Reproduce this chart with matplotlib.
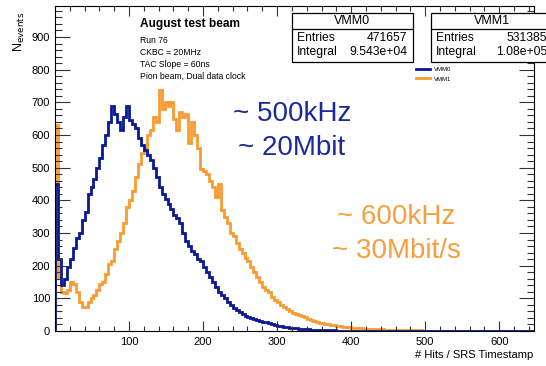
import numpy as np
import matplotlib
matplotlib.use('Agg')
import matplotlib.pyplot as plt
from matplotlib.patches import Rectangle
from matplotlib.lines import Line2D
from matplotlib import ticker

plt.rcParams['font.family'] = ['Liberation Sans', 'DejaVu Sans']

# histogram contents, bin width 4 (# hits / SRS timestamp), 0 -> 648
bin_w = 4
vmm0 = [450, 220, 140, 160, 195, 220, 255, 285, 300, 340,
        365, 420, 440, 465, 500, 530, 570, 600, 640, 690,
        665, 640, 615, 655, 690, 645, 635, 620, 590, 570,
        555, 540, 525, 500, 470, 440, 420, 405, 390, 375,
        355, 345, 330, 300, 275, 260, 245, 235, 220, 215,
        195, 180, 165, 150, 135, 120, 110, 100, 90, 80,
        70, 64, 58, 52, 47, 44, 40, 36, 33, 30,
        28, 27, 24, 21, 19, 16, 14, 13, 11, 10,
        9, 8, 7, 6, 5, 5, 4, 4, 3, 3,
        2, 2, 2, 1, 2, 1, 1, 1, 0, 1,
        0, 1, 0, 0, 0, 0, 0, 0, 0, 0,
        0, 0, 0, 0, 0, 0, 0, 0, 0, 0,
        0, 0, 0, 0, 0, 0, 0, 0, 0, 0,
        0, 0, 0, 0, 0, 0, 0, 0, 0, 0,
        0, 0, 0, 0, 0, 0, 0, 0, 0, 0,
        0, 0, 0, 0, 0, 0, 0, 0, 0, 0,
        0, 0]
vmm1 = [630, 165, 120, 115, 125, 150, 145, 120, 90, 72,
        75, 90, 100, 110, 125, 145, 150, 175, 205, 215,
        250, 275, 300, 330, 380, 400, 430, 470, 510, 545,
        560, 600, 615, 655, 640, 738, 680, 700, 690, 700,
        650, 615, 670, 655, 665, 575, 640, 600, 560, 495,
        490, 480, 460, 440, 410, 450, 370, 350, 330, 300,
        290, 270, 250, 240, 225, 215, 195, 180, 165, 150,
        135, 125, 118, 105, 95, 88, 80, 72, 66, 62,
        56, 52, 48, 45, 42, 38, 34, 30, 28, 26,
        24, 21, 20, 18, 17, 15, 14, 13, 12, 11,
        10, 9, 9, 8, 7, 7, 6, 6, 5, 5,
        5, 4, 4, 3, 4, 3, 3, 2, 3, 2,
        2, 2, 1, 2, 1, 1, 1, 0, 1, 1,
        0, 1, 0, 1, 0, 0, 1, 0, 0, 1,
        0, 0, 0, 1, 0, 0, 0, 0, 1, 0,
        0, 0, 0, 0, 0, 0, 0, 0, 0, 0,
        0, 0]
labels = ['VMM0', 'VMM1']
entries = ['471657', '531385']
integrals = ['9.543e+04', '1.08e+05']
info = ['Run 76', 'CKBC = 20MHz', 'TAC Slope = 60ns', 'Pion beam, Dual data clock']

blue = '#0a1a94'
orange = '#fb9a30'

W, H = 546, 366
def fx(x): return x / W
def fy(y): return 1 - y / H

fig = plt.figure(figsize=(W/100, H/100), dpi=100)
ax = fig.add_axes([fx(55), fy(331), (534-55)/W, (331-6)/H])

edges = np.arange(len(vmm1) + 1) * bin_w
ax.stairs(vmm1, edges, color=orange, lw=2.0, label=labels[1])
ax.stairs(vmm0, edges, color=blue, lw=2.0, label=labels[0])

ax.set_xlim(0, 647)
ax.set_ylim(0, 995)
ax.set_xticks(np.arange(100, 700, 100))
ax.set_yticks(np.arange(0, 1000, 100))
ax.xaxis.set_minor_locator(ticker.MultipleLocator(20))
ax.yaxis.set_minor_locator(ticker.MultipleLocator(20))
ax.tick_params(axis='both', which='both', direction='in', top=True, right=True,
               labelsize=8, width=0.8, colors='#333333', labelcolor='black')
ax.tick_params(axis='x', which='major', length=7.2, pad=4)
ax.tick_params(axis='x', which='minor', length=3.6)
ax.tick_params(axis='y', which='major', length=10.5, pad=3.5)
ax.tick_params(axis='y', which='minor', length=5.2)
for s in ax.spines.values():
    s.set_linewidth(0.8)

fig.text(fx(533), fy(358), '# Hits / SRS Timestamp', ha='right', va='baseline', fontsize=8)
fig.text(fx(19), fy(12), r'N$_{\mathrm{events}}$', rotation=90, ha='center', va='top', fontsize=9)

# run info
fig.text(fx(140), fy(27), 'August test beam', fontsize=8.6, fontweight='bold', va='baseline')
for i, t in enumerate(info):
    fig.text(fx(140), fy(43 + 12*i), t, fontsize=6.2, va='baseline')

# stats boxes
for x0, x1, lab, ent, integ in [(292, 413, labels[0], entries[0], integrals[0]),
                                 (431, 553, labels[1], entries[1], integrals[1])]:
    fig.add_artist(Rectangle((fx(x0), fy(62)), (x1-x0)/W, 49/H, transform=fig.transFigure,
                             facecolor='white', edgecolor='black', lw=0.9))
    fig.add_artist(Line2D([fx(x0), fx(x1)], [fy(29), fy(29)], transform=fig.transFigure,
                          color='black', lw=0.9))
    fig.text(fx((x0+x1)/2), fy(21), lab, ha='center', va='center', fontsize=9)
    fig.text(fx(x0+5), fy(38), 'Entries', ha='left', va='center', fontsize=8.7)
    fig.text(fx(x1-6), fy(38), ent, ha='right', va='center', fontsize=8.7)
    fig.text(fx(x0+5), fy(52), 'Integral', ha='left', va='center', fontsize=8.7)
    fig.text(fx(x1-6), fy(52), integ, ha='right', va='center', fontsize=8.7)

h, l = ax.get_legend_handles_labels()
ax.legend(h[::-1], l[::-1], loc='upper left', bbox_to_anchor=(fx(416), fy(67)),
          bbox_transform=fig.transFigure, frameon=False, fontsize=4.3,
          handlelength=2.4, handletextpad=0.6, labelspacing=0.7,
          borderpad=0, borderaxespad=0)

# rate annotations
fig.text(fx(292), fy(121), '~ 500kHz', ha='center', va='baseline', fontsize=20, color='#1a2b99')
fig.text(fx(292), fy(155), '~ 20Mbit', ha='center', va='baseline', fontsize=20, color='#1a2b99')
fig.text(fx(396), fy(224), '~ 600kHz', ha='center', va='baseline', fontsize=20, color='#f5a040')
fig.text(fx(396), fy(258), '~ 30Mbit/s', ha='center', va='baseline', fontsize=20, color='#f5a040')

fig.savefig('out.png', dpi=100)
